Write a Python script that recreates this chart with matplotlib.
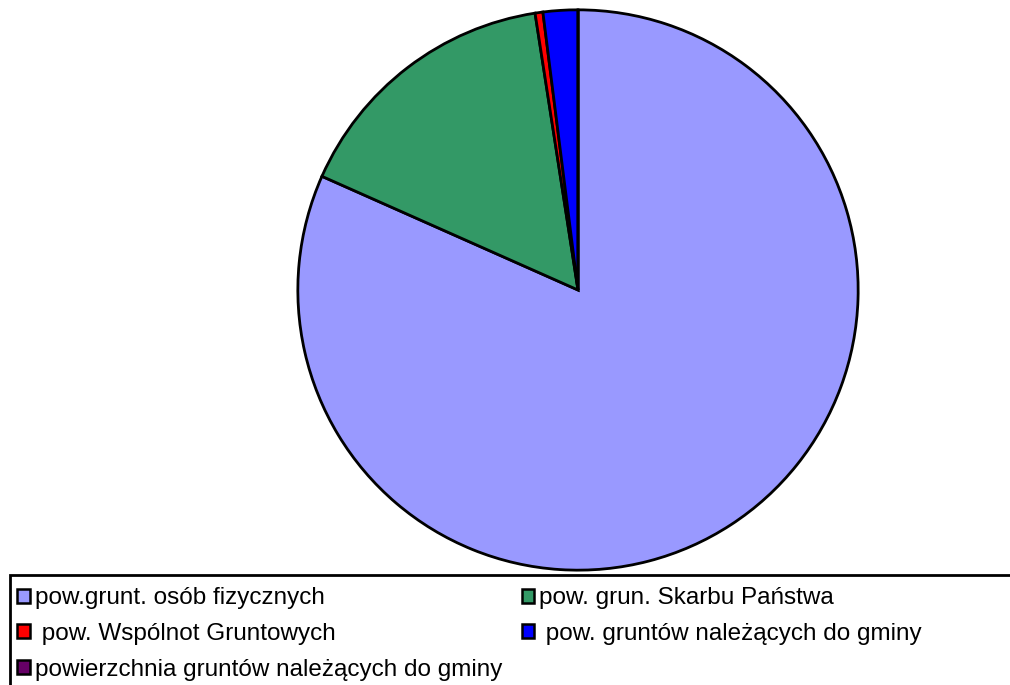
import matplotlib.pyplot as plt
from matplotlib.patches import Patch, Rectangle

plt.rcParams['font.family'] = ['Liberation Sans', 'DejaVu Sans']

# dane
etykiety = [
    "pow.grunt. osób fizycznych",
    "pow. grun. Skarbu Państwa",
    " pow. Wspólnot Gruntowych",
    " pow. gruntów należących do gminy",
    "powierzchnia gruntów należących do gminy",
]
udzialy = [81.65, 15.9, 0.45, 2.0, 0.0]
kolory = ["#9999FF", "#339966", "#FF0000", "#0000FF", "#660066"]

W, H = 1010, 685
fig = plt.figure(figsize=(W / 100, H / 100), dpi=100)

# kolo
cx, cy, r = 578, 290, 281
ax = fig.add_axes([(cx - r) / W, (H - cy - r) / H, 2 * r / W, 2 * r / H])
ax.pie(udzialy, colors=kolory, startangle=90, counterclock=False, radius=1,
       wedgeprops=dict(edgecolor="black", linewidth=2))
ax.set_xlim(-1.003, 1.003)
ax.set_ylim(-1.003, 1.003)
ax.set_aspect("equal")
ax.axis("off")

# ramka legendy
fig.patches.append(Rectangle((10 / W, -0.05), 1.1, (H - 575) / H + 0.05,
                             transform=fig.transFigure, fill=False,
                             edgecolor="black", linewidth=2, clip_on=False))

# legenda - wiersze: kolejnosc kolumnami
kolejnosc = [0, 2, 4, 1, 3]
uchwyty = [Patch(facecolor=kolory[i], edgecolor="black", linewidth=1.8) for i in kolejnosc]
fig.legend(uchwyty, [etykiety[i] for i in kolejnosc], ncol=2, frameon=False,
           loc="upper left", bbox_to_anchor=(15 / W, (H - 585) / H),
           fontsize=17.5, handlelength=0.5, handleheight=0.5, handletextpad=0.22,
           labelspacing=0.56, columnspacing=0.8, borderaxespad=0, borderpad=0.1)

fig.savefig("out.png", dpi=100)
